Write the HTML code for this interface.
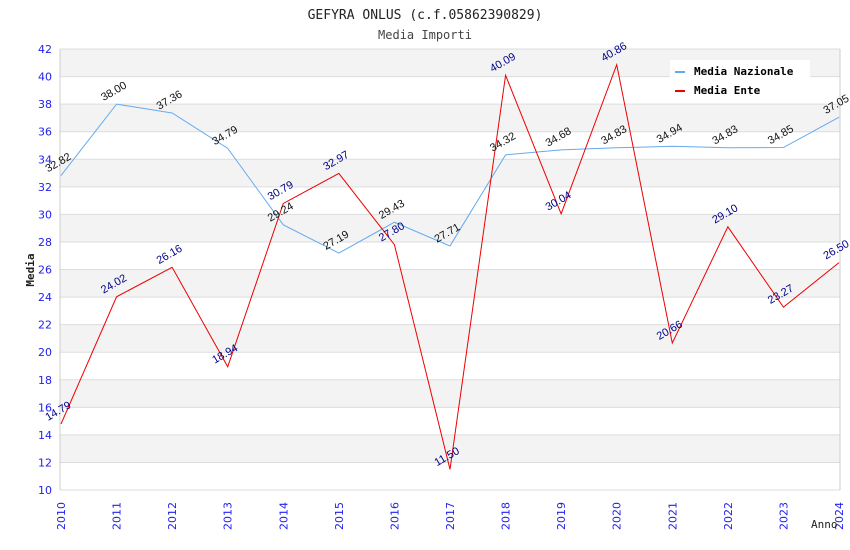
<!DOCTYPE html>
<html><head><meta charset="utf-8"><style>
body{margin:0;background:#fff;width:850px;height:550px;overflow:hidden}
svg{display:block;font-family:"DejaVu Sans","Liberation Sans",sans-serif}
</style></head><body>
<svg id="chart" width="850" height="550">
<text x="425" y="19" text-anchor="middle" font-family="DejaVu Sans Mono, Liberation Mono, monospace" font-size="13" fill="#222">GEFYRA ONLUS (c.f.05862390829)</text>
<text x="425" y="39" text-anchor="middle" font-family="DejaVu Sans Mono, Liberation Mono, monospace" font-size="12" fill="#444">Media Importi</text>
<g id="bands"></g><g id="yticks"></g><g id="xticks"></g><g id="series"></g><g id="labels"></g>
<text x="34" y="270" transform="rotate(-90 34 270)" text-anchor="middle" font-family="DejaVu Sans Mono, monospace" font-size="11" font-weight="bold" fill="#222">Media</text>
<text x="811" y="528" font-family="DejaVu Sans Mono, monospace" font-size="11" fill="#222">Anno</text>
<g>
<rect x="670" y="60" width="140" height="43" fill="#fff"/>
<rect x="675" y="71" width="10" height="2" fill="#66aaee"/>
<text x="694" y="75" font-family="DejaVu Sans Mono, monospace" font-size="11" font-weight="bold" fill="#000">Media Nazionale</text>
<rect x="675" y="90" width="10" height="2" fill="#ee0000"/>
<text x="694" y="94" font-family="DejaVu Sans Mono, monospace" font-size="11" font-weight="bold" fill="#000">Media Ente</text>
</g>
</svg>
<script>
const years=["2010","2011","2012","2013","2014","2015","2016","2017","2018","2019","2020","2021","2022","2023","2024"];
const nazionale=[32.82,38.00,37.36,34.79,29.24,27.19,29.43,27.71,34.32,34.68,34.83,34.94,34.83,34.85,37.05];
const ente=[14.79,24.02,26.16,18.94,30.79,32.97,27.80,11.50,40.09,30.04,40.86,20.66,29.10,23.27,26.50];
const yTicks=[10,12,14,16,18,20,22,24,26,28,30,32,34,36,38,40,42];
const NS="http://www.w3.org/2000/svg";
const X0=61,X1=839,Y0=490,Y1=49,YMIN=10,YMAX=42;
function xs(i){return X0+(X1-X0)*i/(years.length-1);}
function ys(v){return Y0-(v-YMIN)/(YMAX-YMIN)*(Y0-Y1);}
function mk(tag,attrs,parent){const e=document.createElementNS(NS,tag);for(const k in attrs)e.setAttribute(k,attrs[k]);document.getElementById(parent).appendChild(e);return e;}
for(let i=0;i<yTicks.length-1;i++){
  const a=yTicks[i],b=yTicks[i+1];
  const r=mk('rect',{x:60,y:ys(b),width:780,height:ys(a)-ys(b),fill:(Math.round(a/2)%2===0)?'#f3f3f3':'#ffffff'},'bands');
  
  
}
for(const t of yTicks){
  const l=mk('line',{x1:60,x2:840,y1:ys(t),y2:ys(t),stroke:'#dddddd','stroke-width':1},'yticks');
  
  
  const tx=mk('text',{x:52,y:ys(t)+4,'text-anchor':'end','font-size':11,fill:'#2222ee'},'yticks');
  tx.textContent=t;
  
  
}
const ax=mk('line',{x1:60,x2:60,y1:Y1,y2:Y0,stroke:'#ccc'},'yticks');


const ax2=mk('line',{x1:840,x2:840,y1:Y1,y2:Y0,stroke:'#ccc'},'yticks');


years.forEach((y,i)=>{
  const x=xs(i);
  const t=mk('text',{x:x+4,y:530,transform:`rotate(-90 ${x+4} 530)`,'font-size':11,fill:'#2222ee'},'xticks');
  t.textContent=y;
  
  
});
function series(vals,color,lc,name){
  const p=mk('polyline',{points:vals.map((v,i)=>xs(i)+','+ys(v)).join(' '),fill:'none',stroke:color,'stroke-width':1},'series');
  
  
  vals.forEach((v,i)=>{
    const x=xs(i)-13,y=ys(v)-3;
    const t=mk('text',{x:x,y:y,transform:`rotate(-30 ${x} ${y})`,'font-size':11,'font-family':'Liberation Sans, sans-serif',fill:lc},'labels');
    t.textContent=v.toFixed(2);
    
    
  });
}
series(nazionale,'#66aaee','#111','nazionale');
series(ente,'#ee0000','#000088','ente');
</script>
</body></html>
